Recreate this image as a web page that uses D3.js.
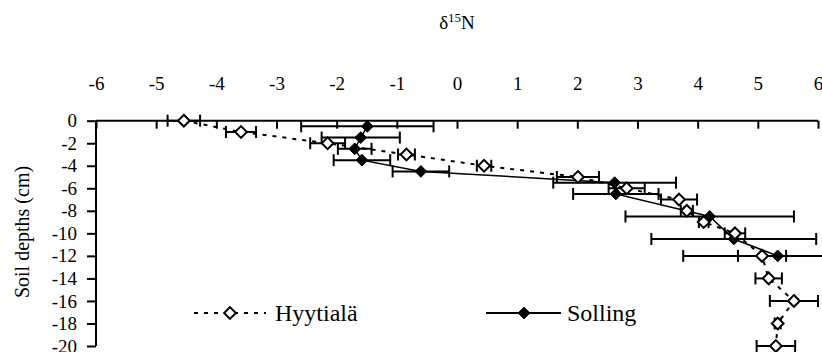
<!DOCTYPE html>
<html>
<head>
<meta charset="utf-8">
<script src="https://cdn.jsdelivr.net/npm/d3@7"></script>
<style>
  body { margin: 0; background: #fff; }
  svg text { font-family: "Liberation Serif", "DejaVu Serif", serif; fill: #000; }
</style>
</head>
<body>
<div id="chart"></div>
<script>
// Hyytiala (open diamonds, dashed line)
var hyDepth = [0, -1, -2, -3, -4, -5, -6, -7, -8, -9, -10, -12, -14, -16, -18, -20];
var hyValue = [-4.54, -3.59, -2.15, -0.84, 0.45, 2.01, 2.82, 3.69, 3.82, 4.1, 4.62, 5.07, 5.18, 5.6, 5.33, 5.3];
var hyErr   = [0.27, 0.25, 0.29, 0.14, 0.12, 0.35, 0.3, 0.3, 0.1, 0.08, 0.17, 0.4, 0.22, 0.4, 0.05, 0.32];

// Solling (filled diamonds, solid line)
var soDepth = [-0.5, -1.5, -2.5, -3.5, -4.5, -5.5, -6.5, -8.5, -10.5, -12];
var soValue = [-1.49, -1.6, -1.7, -1.58, -0.6, 2.62, 2.64, 4.2, 4.6, 5.33];
var soErr   = [1.1, 0.65, 0.28, 0.47, 0.47, 1.02, 0.71, 1.4, 1.37, 1.57];

var xTicks = [-6, -5, -4, -3, -2, -1, 0, 1, 2, 3, 4, 5, 6];
var yTicks = [0, -2, -4, -6, -8, -10, -12, -14, -16, -18, -20];

var width = 822, height = 352;
var serif = "'Liberation Serif', 'DejaVu Serif', serif";
var svg = d3.select("#chart").append("svg")
  .attr("width", width)
  .attr("height", height);

var x = d3.scaleLinear().domain([-6, 6]).range([96, 818]);
var y = d3.scaleLinear().domain([0, -20]).range([120.7, 346]);

// axes
var xAxis = svg.append("g")
  .attr("transform", "translate(0," + y(0) + ")")
  .call(d3.axisTop(x).tickValues(xTicks).tickSize(-8).tickPadding(31));
xAxis.attr("font-family", serif);
xAxis.select(".domain").remove();
xAxis.append("line").attr("x1", x(-6)).attr("x2", x(6))
  .attr("stroke", "#000").attr("stroke-width", 2);
xAxis.selectAll(".tick line").attr("stroke-width", 2);
xAxis.selectAll("text").style("font-size", "19px")
  .text(d => d < 0 ? "-" + Math.abs(d) : d);

var yAxis = svg.append("g")
  .attr("transform", "translate(" + x(-6) + ",0)")
  .call(d3.axisLeft(y).tickValues(yTicks).tickSize(9).tickPadding(10));
yAxis.attr("font-family", serif);
yAxis.select(".domain").remove();
yAxis.append("line").attr("y1", y(0)).attr("y2", y(-20))
  .attr("stroke", "#000").attr("stroke-width", 2);
yAxis.selectAll(".tick line").attr("stroke-width", 2);
yAxis.selectAll("text").style("font-size", "19px")
  .text(d => d < 0 ? "-" + Math.abs(d) : d);

// title
var title = svg.append("text")
  .attr("x", x(0)).attr("y", 29)
  .attr("text-anchor", "middle").style("font-size", "19px");
title.append("tspan").text("δ");
title.append("tspan").style("font-size", "13px").attr("dy", -7).text("15");
title.append("tspan").attr("dy", 7).text("N");

svg.append("text")
  .attr("transform", "translate(29,232) rotate(-90)")
  .attr("text-anchor", "middle").style("font-size", "20px")
  .text("Soil depths (cm)");

var hy = hyDepth.map((d, i) => ({depth: d, v: hyValue[i], e: hyErr[i]}));
var so = soDepth.map((d, i) => ({depth: d, v: soValue[i], e: soErr[i]}));

var line = d3.line().x(d => x(d.v)).y(d => y(d.depth));
var diamond = d3.symbol().type(d3.symbolDiamond2).size(88);

function errorBars(data) {
  var g = svg.append("g").attr("stroke", "#000").attr("stroke-width", 2);
  g.selectAll(".bar").data(data).enter().append("line")
    .attr("x1", d => x(d.v - d.e)).attr("x2", d => x(d.v + d.e))
    .attr("y1", d => y(d.depth)).attr("y2", d => y(d.depth));
  g.selectAll(".capl").data(data).enter().append("line")
    .attr("x1", d => x(d.v - d.e)).attr("x2", d => x(d.v - d.e))
    .attr("y1", d => y(d.depth) - 6).attr("y2", d => y(d.depth) + 6);
  g.selectAll(".capr").data(data).enter().append("line")
    .attr("x1", d => x(d.v + d.e)).attr("x2", d => x(d.v + d.e))
    .attr("y1", d => y(d.depth) - 6).attr("y2", d => y(d.depth) + 6);
}

// Solling
errorBars(so);
svg.append("path").datum(so).attr("d", line)
  .attr("fill", "none").attr("stroke", "#000").attr("stroke-width", 1.5);

// Hyytiala
errorBars(hy);
svg.append("path").datum(hy).attr("d", line)
  .attr("fill", "none").attr("stroke", "#000").attr("stroke-width", 2)
  .attr("stroke-dasharray", "4,6");

svg.selectAll(".so").data(so).enter().append("path")
  .attr("d", diamond)
  .attr("transform", d => "translate(" + x(d.v) + "," + y(d.depth) + ")")
  .attr("fill", "#000").attr("stroke", "#000").attr("stroke-width", 1);

svg.selectAll(".hy").data(hy).enter().append("path")
  .attr("d", diamond)
  .attr("transform", d => "translate(" + x(d.v) + "," + y(d.depth) + ")")
  .attr("fill", "#fff").attr("stroke", "#000").attr("stroke-width", 2);

// legend
var lg = svg.append("g");
lg.append("line").attr("x1", 194).attr("x2", 266).attr("y1", 313).attr("y2", 313)
  .attr("stroke", "#000").attr("stroke-width", 2).attr("stroke-dasharray", "4,6");
lg.append("path").attr("d", diamond).attr("transform", "translate(230,313)")
  .attr("fill", "#fff").attr("stroke", "#000").attr("stroke-width", 2);
lg.append("text").attr("x", 275).attr("y", 321).style("font-size", "24px").text("Hyytialä");

lg.append("line").attr("x1", 486).attr("x2", 561).attr("y1", 313).attr("y2", 313)
  .attr("stroke", "#000").attr("stroke-width", 2);
lg.append("path").attr("d", diamond).attr("transform", "translate(524,313)")
  .attr("fill", "#000").attr("stroke", "#000").attr("stroke-width", 1);
lg.append("text").attr("x", 567).attr("y", 321).style("font-size", "24px").text("Solling");
</script>
</body>
</html>
